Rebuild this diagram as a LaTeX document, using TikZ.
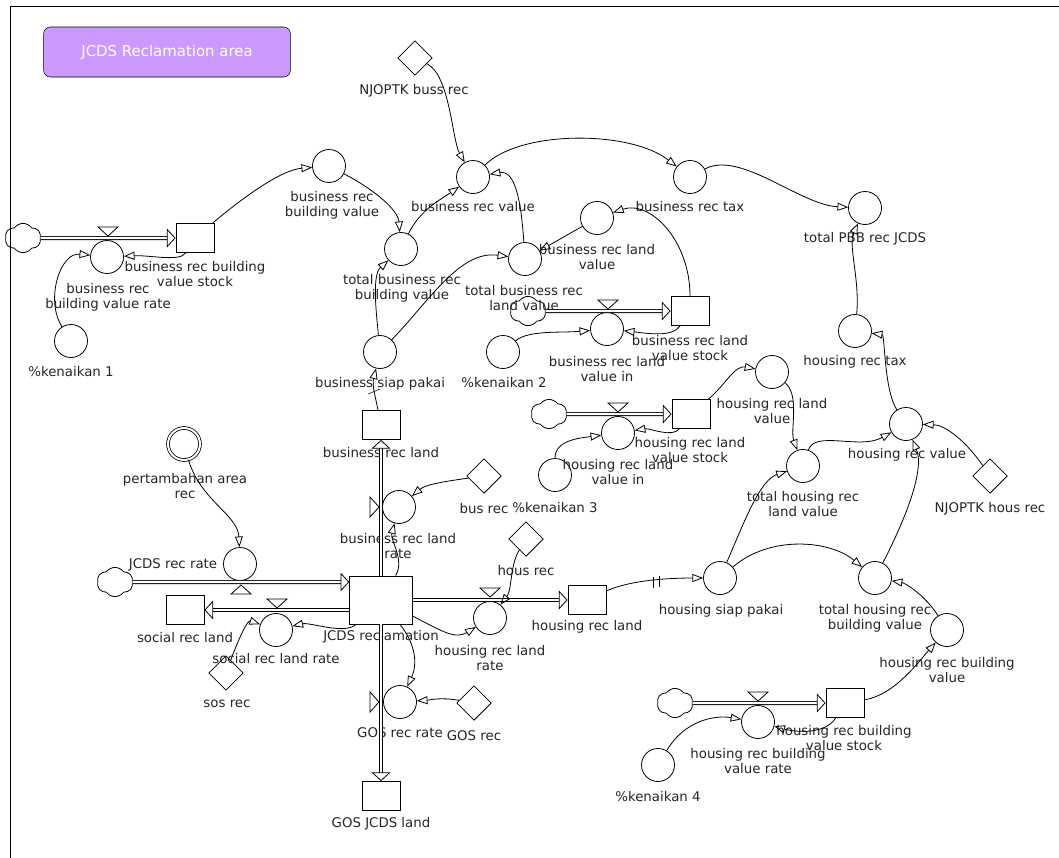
\documentclass[tikz,border=0pt]{standalone}
\usepackage{fontspec}
\setmainfont{DejaVu Sans}
\usetikzlibrary{arrows.meta,shapes.geometric,shapes.symbols}
\newcommand{\sfdfont}{\fontsize{10}{11.3}\selectfont}
\definecolor{sfdlilac}{RGB}{204,153,255}
\tikzset{
  sfd aux/.style={circle,draw,minimum size=24.75pt,inner sep=0pt,line width=0.6pt},
  sfd stock/.style={rectangle,draw,minimum width=28.5pt,minimum height=21.75pt,
    inner sep=0pt,line width=0.6pt},
  sfd const/.style={diamond,draw,minimum size=26pt,inner sep=0pt,line width=0.6pt},
  sfd cloud/.style={cloud,draw,cloud puffs=6,cloud puff arc=110,aspect=1.3,
    minimum width=27pt,minimum height=22pt,inner sep=0pt,line width=0.6pt},
  sfd link/.style={line width=0.6pt,-{Triangle[open,length=8pt,width=6pt]}},
  sfd pipe/.style={line width=0.6pt,double,double distance=1.8pt,
    -{Triangle[open,length=6.5pt,width=14pt]}},
  sfd valve/.style={draw,line width=0.6pt,fill=white},
  sfd label/.style={font=\sfdfont,align=center,inner sep=0pt,text=black!85}
}
\newcommand{\sfdvalveat}[2]{%
  \begin{scope}[shift={(#1)},rotate=#2]
    \draw[sfd valve] (-10,-9)--(10,-9)--(0,0)--cycle;
  \end{scope}%
}

\begin{document}
\begin{tikzpicture}[x=0.75pt,y=-0.75pt]
  \useasboundingbox[fill=white] (0,0) rectangle (1059,857);
  \draw[line width=0.75pt] (10,870)--(10,6)--(1070,6);
  \node[rectangle,rounded corners=5pt,draw,fill=sfdlilac,minimum width=185pt,
    minimum height=37.5pt,text=white,font=\fontsize{11.2}{13}\selectfont] (title)
    at (167,52) {JCDS Reclamation area};

  % business building value chain
  \node[sfd cloud] (cloudA) at (23,238) {};
  \node[sfd aux] (bbrate) at (107,257) {};
  \node[sfd stock] (bbstock) at (195,238) {};
  \node[sfd aux] (kenA) at (71,341) {};
  \node[sfd aux] (bbval) at (329,166) {};
  \node[sfd const] (njbus) at (415,58) {};
  \node[sfd aux] (brval) at (473,177) {};
  \node[sfd aux] (tbbval) at (401,249) {};
  \node[sfd aux] (tblval) at (525,259) {};
  \node[sfd aux] (blval) at (597,218) {};
  \node[sfd aux] (brtax) at (690,177) {};
  \node[sfd aux] (totpbb) at (865,208) {};
  \node[sfd cloud] (cloudB) at (528,311) {};
  \node[sfd stock] (blstock) at (690,311) {};
  \node[sfd aux] (blin) at (607,329) {};
  \node[sfd aux] (kenB) at (503,352) {};
  \node[sfd aux] (bsiap) at (380,352) {};
  \node[sfd stock] (brland) at (381,425) {};
  \node[sfd aux] (brlrate) at (399,507) {};
  \node[sfd const] (busrec) at (484,476) {};

  % housing chain
  \node[sfd aux] (hrtax) at (855,331) {};
  \node[sfd aux] (hrval) at (906,424) {};
  \node[sfd const] (njhous) at (990,476) {};
  \node[sfd aux] (hlval) at (772,372) {};
  \node[sfd aux] (thlval) at (803,466) {};
  \node[sfd cloud] (cloudC) at (549,414) {};
  \node[sfd stock] (hlstock) at (691,414) {};
  \node[sfd aux] (hlin) at (618,433) {};
  \node[sfd aux] (kenC) at (555,475) {};
  \node[sfd const] (housrec) at (526,539) {};
  \node[sfd aux] (hrlrate) at (490,618) {};
  \node[sfd stock] (hrland) at (587,600) {};
  \node[sfd aux] (hsiap) at (720,578) {};
  \node[sfd aux] (thbval) at (875,578) {};
  \node[sfd aux] (hbval) at (947,630) {};
  \node[sfd cloud] (cloudD) at (675,703) {};
  \node[sfd stock] (hbstock) at (845,703) {};
  \node[sfd aux] (hbrate) at (758,722) {};
  \node[sfd aux] (kenD) at (658,765) {};

  % reclamation
  \node[sfd stock,minimum width=47pt,minimum height=36pt] (jcds) at (381,600) {};
  \node[sfd aux,double,double distance=1.5pt,minimum size=24pt] (tambah) at (184,444) {};
  \node[sfd aux] (jrate) at (240,564) {};
  \node[sfd cloud] (cloudE) at (115,582) {};
  \node[sfd stock] (socland) at (185,610) {};
  \node[sfd aux] (socrate) at (276,630) {};
  \node[sfd const] (sosrec) at (226,673) {};
  \node[sfd aux] (gosrate) at (400,702) {};
  \node[sfd stock] (gosland) at (381,796) {};
  \node[sfd const] (gosrec) at (474,703) {};

  % labels
  \node[sfd label] (bbrate-l) at (108,297) {business rec\\building value rate};
  \node[sfd label] (bbstock-l) at (195,274) {business rec building\\value stock};
  \node[sfd label] (kenA-l) at (71,372) {\%kenaikan 1};
  \node[sfd label] (bbval-l) at (332,205) {business rec\\building value};
  \node[sfd label] (njbus-l) at (414,91) {NJOPTK buss rec};
  \node[sfd label] (brval-l) at (473,207) {business rec value};
  \node[sfd label] (tbbval-l) at (402,288) {total business rec\\building value};
  \node[sfd label] (tblval-l) at (524,298) {total business rec\\land value};
  \node[sfd label] (blval-l) at (597,257) {business rec land\\value};
  \node[sfd label] (brtax-l) at (690,207) {business rec tax};
  \node[sfd label] (totpbb-l) at (865,239) {total PBB rec JCDS};
  \node[sfd label] (blstock-l) at (690,348) {business rec land\\value stock};
  \node[sfd label] (blin-l) at (607,369) {business rec land\\value in};
  \node[sfd label] (kenB-l) at (504,383) {\%kenaikan 2};
  \node[sfd label] (bsiap-l) at (380,384) {business siap pakai};
  \node[sfd label] (brland-l) at (381,453) {business rec land};
  \node[sfd label] (brlrate-l) at (398,546) {business rec land\\rate};
  \node[sfd label] (busrec-l) at (484,509) {bus rec};
  \node[sfd label] (hrtax-l) at (855,362) {housing rec tax};
  \node[sfd label] (hrval-l) at (907,455) {housing rec value};
  \node[sfd label] (njhous-l) at (990,509) {NJOPTK hous rec};
  \node[sfd label] (hlval-l) at (772,411) {housing rec land\\value};
  \node[sfd label] (thlval-l) at (803,504) {total housing rec\\land value};
  \node[sfd label] (hlstock-l) at (690,450) {housing rec land\\value stock};
  \node[sfd label] (hlin-l) at (618,472) {housing rec land\\value in};
  \node[sfd label] (kenC-l) at (555,508) {\%kenaikan 3};
  \node[sfd label] (housrec-l) at (526,571) {hous rec};
  \node[sfd label] (hrlrate-l) at (490,658) {housing rec land\\rate};
  \node[sfd label] (hrland-l) at (587,627) {housing rec land};
  \node[sfd label] (hsiap-l) at (721,611) {housing siap pakai};
  \node[sfd label] (thbval-l) at (875,618) {total housing rec\\building value};
  \node[sfd label] (hbval-l) at (947,670) {housing rec building\\value};
  \node[sfd label] (hbstock-l) at (844,738) {housing rec building\\value stock};
  \node[sfd label] (hbrate-l) at (758,761) {housing rec building\\value rate};
  \node[sfd label] (kenD-l) at (658,797) {\%kenaikan 4};
  \node[sfd label] (jcds-l) at (381,637) {JCDS reclamation};
  \node[sfd label] (tambah-l) at (185,486) {pertambahan area\\rec};
  \node[sfd label] (jrate-l) at (173,565) {JCDS rec rate};
  \node[sfd label] (socland-l) at (185,638) {social rec land};
  \node[sfd label] (socrate-l) at (276,659) {social rec land rate};
  \node[sfd label] (sosrec-l) at (227,704) {sos rec};
  \node[sfd label] (gosrate-l) at (400,733) {GOS rec rate};
  \node[sfd label] (gosland-l) at (381,824) {GOS JCDS land};
  \node[sfd label] (gosrec-l) at (474,736) {GOS rec};

  % flows
  \draw[sfd pipe] (cloudA)--(bbstock);
  \draw[sfd pipe] (cloudB)--(blstock);
  \draw[sfd pipe] (cloudC)--(hlstock);
  \draw[sfd pipe] (cloudD)--(hbstock);
  \draw[sfd pipe] (cloudE)--(cloudE -| jcds.west);
  \draw[sfd pipe] (jcds)--(brland);
  \draw[sfd pipe] (jcds.west |- socland)--(socland);
  \draw[sfd pipe] (jcds)--(hrland);
  \draw[sfd pipe] (jcds)--(gosland);
  \sfdvalveat{108,236}{0}
  \sfdvalveat{608,309}{0}
  \sfdvalveat{618,412}{0}
  \sfdvalveat{758,701}{0}
  \sfdvalveat{241,585}{180}
  \sfdvalveat{277,608}{0}
  \sfdvalveat{490,597}{0}
  \sfdvalveat{379,507}{90}
  \sfdvalveat{379,702}{90}

  % links
  \draw[sfd link] (bbstock) .. controls (180,262) and (150,255) .. (bbrate);
  \draw[sfd link] (kenA) .. controls (45,300) and (60,252) .. (bbrate);
  \draw[sfd link] (bbstock) .. controls (240,200) and (280,170) .. (bbval);
  \draw[sfd link] (njbus) .. controls (450,75) and (452,140) .. (brval);
  \draw[sfd link] (bbval) .. controls (375,190) and (398,210) .. (tbbval);
  \draw[sfd link] (tbbval) .. controls (420,210) and (440,200) .. (brval);
  \draw[sfd link] (tblval) .. controls (521,200) and (515,170) .. (brval);
  \draw[sfd link] (blval)--(tblval);
  \draw[sfd link] (blstock) .. controls (690,240) and (650,200) .. (blval);
  \draw[sfd link] (brval) .. controls (520,130) and (630,130) .. (brtax);
  \draw[sfd link] (brtax) .. controls (740,150) and (800,205) .. (totpbb);
  \draw[sfd link] (hrtax) .. controls (860,280) and (848,245) .. (totpbb);
  \draw[sfd link] (hrval) .. controls (884,390) and (885,335) .. (hrtax);
  \draw[sfd link] (njhous) .. controls (965,440) and (945,425) .. (hrval);
  \draw[sfd link] (hlval) .. controls (800,395) and (790,430) .. (thlval);
  \draw[sfd link] (thlval) .. controls (815,430) and (860,450) .. (hrval);
  \draw[sfd link] (hlstock) .. controls (725,385) and (735,365) .. (hlval);
  \draw[sfd link] (hlstock) .. controls (672,438) and (650,428) .. (hlin);
  \draw[sfd link] (kenC) .. controls (555,440) and (580,438) .. (hlin);
  \draw[sfd link] (blstock) .. controls (672,338) and (645,333) .. (blin);
  \draw[sfd link] (kenB) .. controls (528,330) and (560,333) .. (blin);
  \draw[sfd link] (brland) .. controls (375,395) and (372,385) .. (bsiap);
  \draw (368,394)--(380,389);
  \draw[sfd link] (bsiap) .. controls (376,310) and (372,275) .. (tbbval);
  \draw[sfd link] (bsiap) .. controls (430,300) and (460,250) .. (tblval);
  \draw[sfd link] (busrec) .. controls (440,482) and (425,485) .. (brlrate);
  \draw[sfd link] (jcds) .. controls (405,560) and (390,540) .. (brlrate);
  \draw[sfd link] (tambah) .. controls (200,500) and (238,515) .. (jrate);
  \draw[sfd link] (jcds) .. controls (345,635) and (310,622) .. (socrate);
  \draw[sfd link] (sosrec) .. controls (240,635) and (248,620) .. (socrate);
  \draw[sfd link] (housrec) .. controls (510,565) and (512,590) .. (hrlrate);
  \draw[sfd link] (jcds) .. controls (440,630) and (455,640) .. (hrlrate);
  \draw[sfd link] (jcds) .. controls (420,650) and (415,670) .. (gosrate);
  \draw[sfd link] (gosrec) .. controls (440,697) and (430,700) .. (gosrate);
  \draw[sfd link] (hrland) .. controls (630,580) and (670,578) .. (hsiap);
  \draw (653,577)--(653,588) (659,576)--(659,587);
  \draw[sfd link] (hsiap) .. controls (745,520) and (760,480) .. (thlval);
  \draw[sfd link] (hsiap) .. controls (770,535) and (830,540) .. (thbval);
  \draw[sfd link] (thbval) .. controls (905,520) and (925,470) .. (hrval);
  \draw[sfd link] (hbval) .. controls (925,595) and (905,583) .. (thbval);
  \draw[sfd link] (hbstock) .. controls (895,695) and (920,660) .. (hbval);
  \draw[sfd link] (hbstock) .. controls (825,735) and (795,732) .. (hbrate);
  \draw[sfd link] (kenD) .. controls (685,720) and (715,715) .. (hbrate);
\end{tikzpicture}
\end{document}
